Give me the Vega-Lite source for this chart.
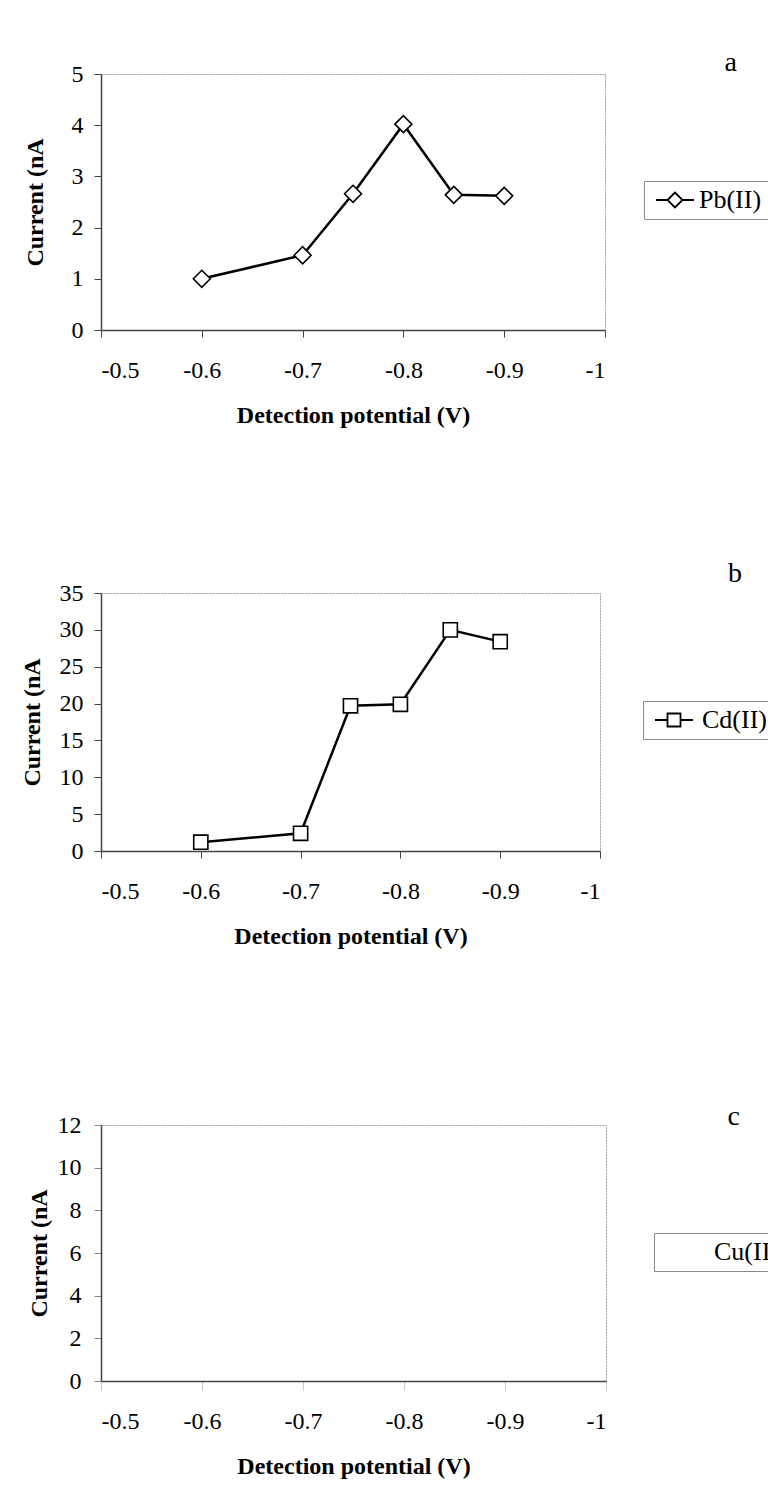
{
  "$schema": "https://vega.github.io/schema/vega-lite/v6.json",
  "background": "white",
  "padding": {"left": 19, "top": 48, "right": 0, "bottom": 0},
  "datasets": {
    "readings": [
      {"potential": -0.6, "current": 1.0, "ion": "Pb(II)"},
      {"potential": -0.7, "current": 1.46, "ion": "Pb(II)"},
      {"potential": -0.75, "current": 2.66, "ion": "Pb(II)"},
      {"potential": -0.8, "current": 4.02, "ion": "Pb(II)"},
      {"potential": -0.85, "current": 2.64, "ion": "Pb(II)"},
      {"potential": -0.9, "current": 2.62, "ion": "Pb(II)"},
      {"potential": -0.6, "current": 1.2, "ion": "Cd(II)"},
      {"potential": -0.7, "current": 2.4, "ion": "Cd(II)"},
      {"potential": -0.75, "current": 19.7, "ion": "Cd(II)"},
      {"potential": -0.8, "current": 19.9, "ion": "Cd(II)"},
      {"potential": -0.85, "current": 30.0, "ion": "Cd(II)"},
      {"potential": -0.9, "current": 28.4, "ion": "Cd(II)"}
    ]
  },
  "config": {
    "font": "Liberation Serif",
    "view": {"stroke": "#9a9a9a", "strokeDash": [2, 1], "strokeWidth": 1},
    "axis": {
      "labelFont": "Liberation Serif", "labelFontSize": 24, "labelColor": "black",
      "titleFont": "Liberation Serif", "titleFontSize": 24, "titleFontWeight": "bold", "titleColor": "black",
      "domainColor": "#444", "domainWidth": 1.5, "tickColor": "#444", "tickWidth": 1, "tickSize": 7, "grid": false
    },
    "axisX": {"labelPadding": 21, "titlePadding": 21},
    "axisY": {"labelPadding": 11},
    "legend": {
      "orient": "none", "title": null, "padding": 6, "strokeColor": "#8a8a8a", "fillColor": "white",
      "labelFont": "Liberation Serif", "labelFontSize": 26, "labelColor": "black",
      "symbolSize": 400, "symbolOffset": 12, "labelOffset": 11,
      "symbolStrokeColor": "black", "symbolFillColor": "white", "symbolStrokeWidth": 1.8
    },
    "title": {"font": "Liberation Serif", "fontSize": 28, "fontWeight": "normal", "color": "black", "anchor": "end", "frame": "group", "align": "center", "orient": "top", "baseline": "alphabetic", "offset": 0}
  },
  "spacing": 131,
  "resolve": {"scale": {"color": "independent"}, "legend": {"color": "independent"}},
  "vconcat": [
    {
      "width": 504, "height": 256,
      "title": {"text": "a", "dx": 132, "dy": 19},
      "data": {"name": "readings"},
      "transform": [{"filter": "datum.ion === 'Pb(II)'"}],
      "encoding": {
        "x": {"field": "potential", "type": "quantitative", "scale": {"domain": [-1, -0.5], "reverse": true, "nice": false, "zero": false},
              "axis": {"title": "Detection potential (V)", "values": [-0.5, -0.6, -0.7, -0.8, -0.9, -1], "labelExpr": "'-' + format(-datum.value, '~g')"}},
        "y": {"field": "current", "type": "quantitative", "scale": {"domain": [0, 5], "nice": false},
              "axis": {"title": "Current (nA", "values": [0, 1, 2, 3, 4, 5], "format": "d", "titlePadding": 24}}
      },
      "layer": [
        {"mark": {"type": "line", "strokeWidth": 2.5},
         "encoding": {"color": {"field": "ion", "type": "nominal", "scale": {"domain": ["Pb(II)"], "range": ["black"]},
           "legend": {"legendX": 543, "legendY": 107, "labelOffset": 11, "symbolType": "M-1.9,0H-0.75M0.75,0H1.9M-0.75,0L0,-0.75L0.75,0L0,0.75Z"}}}},
        {"mark": {"type": "point", "shape": "diamond", "size": 289, "filled": true, "fill": "white", "stroke": "black", "strokeWidth": 1.6, "opacity": 1}}
      ]
    },
    {
      "spacing": 153,
      "resolve": {"scale": {"color": "independent"}, "legend": {"color": "independent"}},
      "vconcat": [
        {
          "width": 499, "height": 258,
          "title": {"text": "b", "dx": 142, "dy": 11},
          "data": {"name": "readings"},
          "transform": [{"filter": "datum.ion === 'Cd(II)'"}],
          "encoding": {
            "x": {"field": "potential", "type": "quantitative", "scale": {"domain": [-1, -0.5], "reverse": true, "nice": false, "zero": false},
                  "axis": {"title": "Detection potential (V)", "values": [-0.5, -0.6, -0.7, -0.8, -0.9, -1], "labelExpr": "'-' + format(-datum.value, '~g')"}},
            "y": {"field": "current", "type": "quantitative", "scale": {"domain": [0, 35], "nice": false},
                  "axis": {"title": "Current (nA", "values": [0, 5, 10, 15, 20, 25, 30, 35], "format": "d", "titlePadding": 15}}
          },
          "layer": [
            {"mark": {"type": "line", "strokeWidth": 2.5},
             "encoding": {"color": {"field": "ion", "type": "nominal", "scale": {"domain": ["Cd(II)"], "range": ["black"]},
               "legend": {"legendX": 542, "legendY": 108, "labelOffset": 15, "symbolType": "M-1.9,0H-0.65M0.65,0H1.9M-0.65,-0.65H0.65V0.65H-0.65Z"}}}},
            {"mark": {"type": "point", "shape": "square", "size": 200, "filled": true, "fill": "white", "stroke": "black", "strokeWidth": 1.6, "opacity": 1}}
          ]
        },
        {
          "width": 505, "height": 256,
          "title": {"text": "c", "dx": 134, "dy": 22},
          "data": {"name": "readings"},
          "transform": [{"filter": "datum.ion === 'Cu(II)'"}],
          "encoding": {
            "x": {"field": "potential", "type": "quantitative", "scale": {"domain": [-1, -0.5], "reverse": true, "nice": false, "zero": false},
                  "axis": {"title": "Detection potential (V)", "values": [-0.5, -0.6, -0.7, -0.8, -0.9, -1], "labelExpr": "'-' + format(-datum.value, '~g')", "tickColor": "#c8c8c8", "tickSize": 9, "labelPadding": 19}},
            "y": {"field": "current", "type": "quantitative", "scale": {"domain": [0, 12], "nice": false},
                  "axis": {"title": "Current (nA", "values": [0, 2, 4, 6, 8, 10, 12], "format": "d", "titlePadding": 6, "labelPadding": 13, "tickColor": "#888"}}
          },
          "layer": [
            {"mark": {"type": "line", "strokeWidth": 2.5},
             "encoding": {"color": {"field": "ion", "type": "nominal", "scale": {"domain": ["Cu(II)"], "range": ["black"]},
               "legend": {"legendX": 553, "legendY": 108, "symbolOpacity": 0, "labelOffset": 16}}}}
          ]
        }
      ]
    }
  ]
}
